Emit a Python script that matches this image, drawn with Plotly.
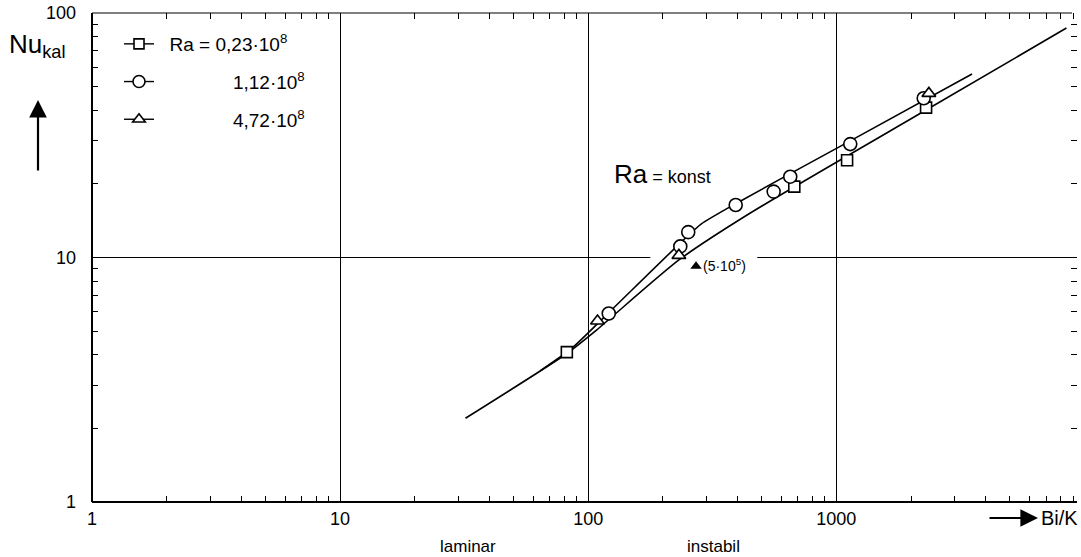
import math
import plotly.graph_objects as go

# ---------------- data ----------------
sq_x = [82, 677, 1105, 2300]            # Ra = 0,23e8
sq_y = [4.1, 19.5, 25.0, 41.0]
ci_x = [121, 235, 253, 393, 559, 652, 1138, 2250]   # Ra = 1,12e8
ci_y = [5.9, 11.1, 12.7, 16.4, 18.6, 21.4, 29.1, 44.8]
tr_x = [109, 232, 2360]                 # Ra = 4,72e8
tr_y = [5.5, 10.2, 46.9]
sp_x = [272]                            # special point (5·10^5)
sp_y = [9.2]
sp_label = "(5·10<sup>5</sup>)"

upper_x = [64, 86, 121, 240, 285, 393, 1138, 3524]   # Ra = konst curve
upper_y = [3.44, 4.26, 5.95, 11.7, 13.7, 16.6, 30.0, 56.3]
lower_x = [32, 82, 108, 232, 450, 2300, 8460]
lower_y = [2.2, 4.05, 5.05, 9.77, 15.2, 40.1, 86.8]

x_ticks = [1, 10, 100, 1000]
x_ticktext = ["1", "10", "100", "1000"]
y_ticks = [1, 10, 100]
y_ticktext = ["1", "10", "100"]
hgrid_y = 10
hgrid_gap = [178, 480]

NB = "\u00a0"
legend_names = [NB * 2 + "Ra = 0,23·10<sup>8</sup>",
                NB * 14 + "1,12·10<sup>8</sup>",
                NB * 14 + "4,72·10<sup>8</sup>"]

FONT = "Liberation Sans"
W, H = 1081, 557
L, R, T, B = 92, 4, 13, 55

fig = go.Figure()

# horizontal grid line at y=10 (with gap)
fig.add_trace(go.Scatter(x=[1, hgrid_gap[0]], y=[hgrid_y, hgrid_y], mode="lines",
                         line=dict(color="black", width=1), showlegend=False, hoverinfo="skip"))
fig.add_trace(go.Scatter(x=[hgrid_gap[1], 10 ** 3.97], y=[hgrid_y, hgrid_y], mode="lines",
                         line=dict(color="black", width=1), showlegend=False, hoverinfo="skip"))

# curves
fig.add_trace(go.Scatter(x=lower_x, y=lower_y, mode="lines",
                         line=dict(color="black", width=1.6, shape="spline", smoothing=0.6),
                         showlegend=False))
fig.add_trace(go.Scatter(x=upper_x, y=upper_y, mode="lines",
                         line=dict(color="black", width=1.6, shape="spline", smoothing=0.6),
                         showlegend=False))

mk = dict(color="white", line=dict(color="black", width=1.6))
fig.add_trace(go.Scatter(x=sq_x, y=sq_y, mode="markers", showlegend=False,
                         marker=dict(symbol="square", size=11, **mk)))
fig.add_trace(go.Scatter(x=ci_x, y=ci_y, mode="markers", showlegend=False,
                         marker=dict(symbol="circle", size=13, **mk)))
fig.add_trace(go.Scatter(x=tr_x, y=tr_y, mode="markers", showlegend=False,
                         marker=dict(symbol="triangle-up", size=12, **mk)))
fig.add_trace(go.Scatter(x=sp_x, y=sp_y, mode="markers", showlegend=False,
                         marker=dict(symbol="triangle-up", size=10, color="black")))

# legend entries
for name, sym, size in zip(legend_names, ["square", "circle", "triangle-up"], [10, 12, 11]):
    fig.add_trace(go.Scatter(x=[None], y=[None], mode="lines+markers", name=name,
                             legendgroup=name,
                             line=dict(color="black", width=1.4),
                             marker=dict(symbol=sym, size=size, **mk)))

def px_to_paper(px, py):
    return (px - L) / (W - L - R), (H - B - py) / (H - T - B)

ann = []
# special point label
ann.append(dict(x=math.log10(sp_x[0]), y=math.log10(sp_y[0]), xref="x", yref="y",
                text=sp_label, showarrow=False, xanchor="left", xshift=5, yshift=1,
                font=dict(family=FONT, size=14, color="black")))
# Ra = konst
px, py = px_to_paper(612, 174)
ann.append(dict(x=px, y=py, xref="paper", yref="paper", xanchor="left", yanchor="middle",
                text="Ra<span style='font-size:18px'> = konst</span>", showarrow=False,
                font=dict(family=FONT, size=26, color="black")))
# Nu_kal
px, py = px_to_paper(7, 45)
ann.append(dict(x=px, y=py, xref="paper", yref="paper", xanchor="left", yanchor="middle",
                text="Nu<sub>kal</sub>", showarrow=False,
                font=dict(family=FONT, size=26, color="black")))
# up arrow
px, py = px_to_paper(38, 100)
ann.append(dict(x=px, y=py, xref="paper", yref="paper", ax=0, ay=72, text="",
                showarrow=True, arrowhead=2, arrowsize=1.6, arrowwidth=2.2, arrowcolor="black"))
# right arrow
px, py = px_to_paper(1038, 518)
ann.append(dict(x=px, y=py, xref="paper", yref="paper", ax=-50, ay=0, text="",
                showarrow=True, arrowhead=2, arrowsize=1.6, arrowwidth=2.2, arrowcolor="black"))
# Bi/K
px, py = px_to_paper(1080, 518)
ann.append(dict(x=px, y=py, xref="paper", yref="paper", xanchor="right", yanchor="middle",
                text="Bi/K", showarrow=False, font=dict(family=FONT, size=20, color="black")))
# laminar / instabil
for txt, cx in [("laminar", 468), ("instabil", 713)]:
    px, py = px_to_paper(cx, 546)
    ann.append(dict(x=px, y=py, xref="paper", yref="paper", xanchor="center", yanchor="middle",
                    text=txt, showarrow=False, font=dict(family=FONT, size=17, color="black")))

shapes = [
    dict(type="line", xref="paper", yref="paper", x0=0, x1=0, y0=0, y1=1,
         line=dict(color="black", width=2)),
    dict(type="line", xref="paper", yref="paper", x0=0, x1=1, y0=0, y1=0,
         line=dict(color="black", width=2)),
    dict(type="line", xref="paper", yref="paper", x0=0, x1=0.995, y0=1, y1=1,
         line=dict(color="black", width=1.2)),
]

fig.update_layout(
    width=W, height=H, margin=dict(l=L, r=R, t=T, b=B),
    paper_bgcolor="white", plot_bgcolor="white",
    font=dict(family=FONT, size=18, color="black"),
    annotations=ann, shapes=shapes,
    legend=dict(x=px_to_paper(119, 0)[0], y=px_to_paper(0, 25)[1], xanchor="left", yanchor="top",
                bgcolor="rgba(0,0,0,0)", font=dict(family=FONT, size=19, color="black"),
                tracegroupgap=10, itemwidth=30),
)
fig.update_xaxes(type="log", range=[0, 3.97], tickvals=x_ticks, ticktext=x_ticktext,
                 ticks="inside", ticklen=12, tickwidth=1.4, tickcolor="black",
                 showline=False, mirror="ticks", showgrid=True, gridcolor="black", gridwidth=1,
                 zeroline=False, ticklabelstandoff=4,
                 minor=dict(ticks="inside", ticklen=6, tickwidth=1.4, tickcolor="black",
                            dtick="D1", showgrid=False))
fig.update_yaxes(type="log", range=[0, 2], tickvals=y_ticks, ticktext=y_ticktext,
                 ticks="inside", ticklen=10, tickwidth=1.4, tickcolor="black",
                 showline=False, mirror="ticks", showgrid=False, zeroline=False,
                 ticklabelstandoff=15,
                 minor=dict(ticks="inside", ticklen=6, tickwidth=1.4, tickcolor="black",
                            dtick="D1", showgrid=False))

fig.write_html("out.html", post_script="document.body.style.margin='0';",
               config={"displayModeBar": False})
